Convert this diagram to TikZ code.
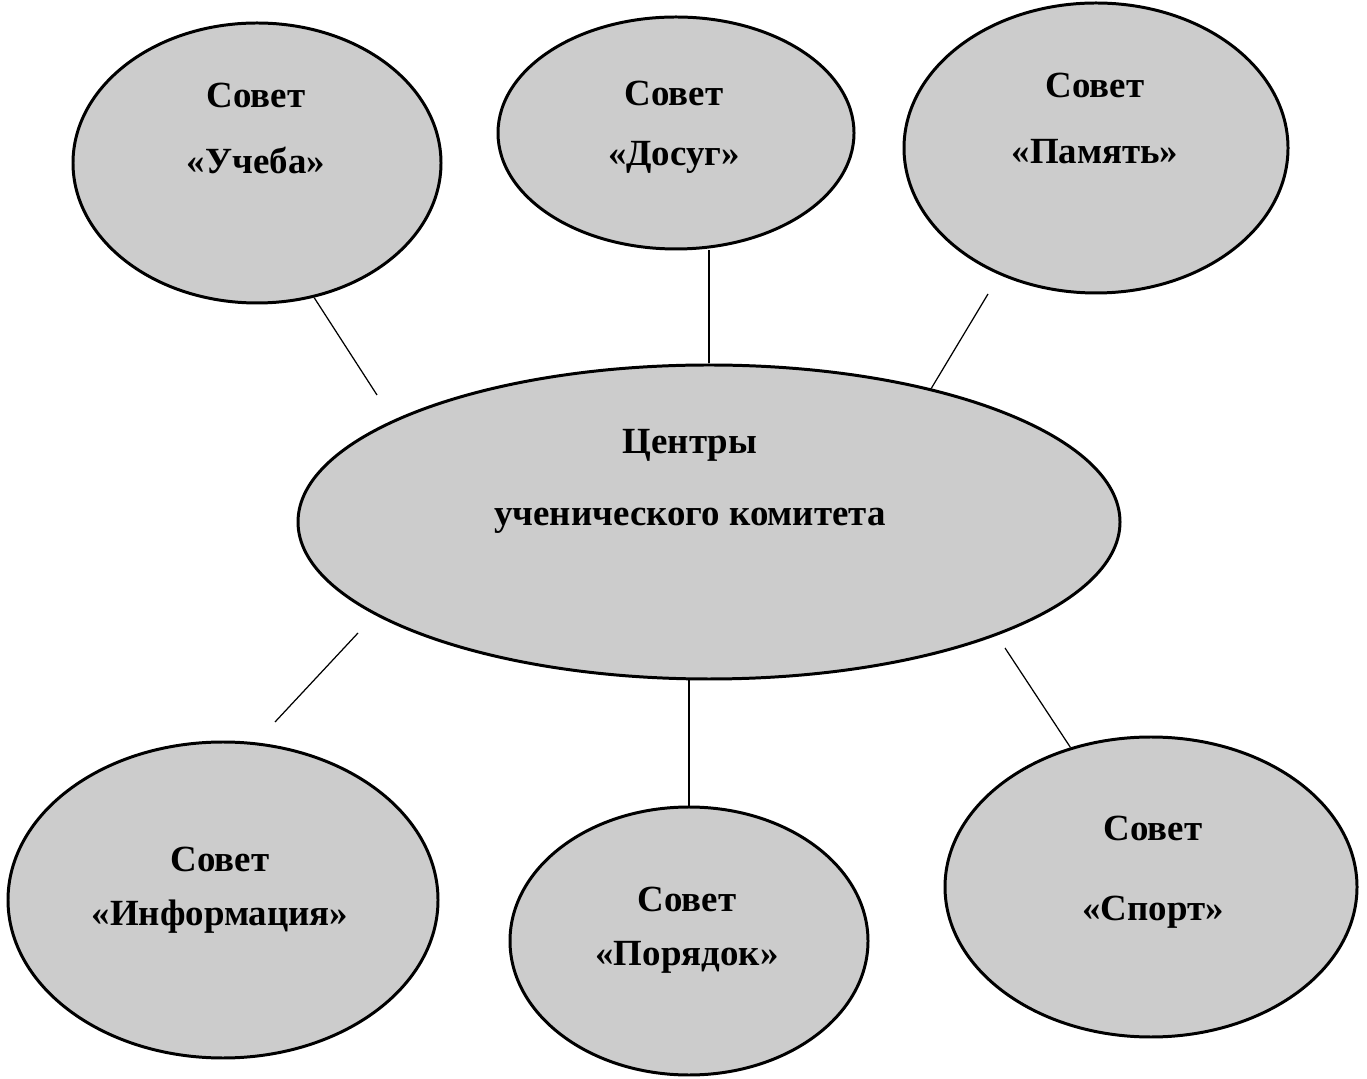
\documentclass[tikz,border=0pt]{standalone}
\usepackage{fontspec}
\setmainfont{Liberation Serif}
\usetikzlibrary{shapes.geometric}

\tikzset{
  council/.style={ellipse,draw,line width=1.7pt,fill=black!20,inner sep=0pt},
  caption/.style={align=center,font=\fontsize{21}{25}\selectfont\bfseries},
  link/.style={line width=0.7pt}
}

\begin{document}
\begin{tikzpicture}
  \useasboundingbox (0,0) rectangle (27.34,21.56);

  % councils
  \node[council,minimum width=7.36cm,minimum height=5.60cm] (ucheba) at (5.14,18.30) {};
  \node[council,minimum width=7.12cm,minimum height=4.64cm] (dosug) at (13.52,18.90) {};
  \node[council,minimum width=7.68cm,minimum height=5.80cm] (pamyat) at (21.92,18.60) {};
  \node[council,minimum width=16.44cm,minimum height=6.28cm] (centre) at (14.18,11.12) {};
  \node[council,minimum width=8.60cm,minimum height=6.32cm] (inform) at (4.46,3.56) {};
  \node[council,minimum width=7.16cm,minimum height=5.36cm] (poryadok) at (13.78,2.74) {};
  \node[council,minimum width=8.24cm,minimum height=6.00cm] (sport) at (23.02,3.82) {};

  % captions
  \node[caption] (ucheba text) at (5.12,18.99) {Совет\\[0.46cm]«Учеба»};
  \node[caption] (dosug text) at (13.48,19.02) {Совет\\[0.32cm]«Досуг»};
  \node[caption] (pamyat text) at (21.90,19.19) {Совет\\[0.46cm]«Память»};
  \node[caption] (centre text) at (13.80,11.94) {Центры\\[0.56cm]ученического комитета};
  \node[caption] (inform text) at (4.40,3.76) {Совет\\[0.20cm]«Информация»};
  \node[caption] (poryadok text) at (13.74,2.96) {Совет\\[0.20cm]«Порядок»};
  \node[caption] (sport text) at (23.06,4.12) {Совет\\[0.72cm]«Спорт»};

  % loose ends
  \coordinate (ucheba end) at (7.54,13.66);
  \coordinate (pamyat start) at (19.76,15.68);
  \coordinate (inform start) at (7.16,8.90);
  \coordinate (inform end) at (5.50,7.12);
  \coordinate (sport start) at (20.10,8.60);

  % connectors
  \draw[link] (ucheba.-67) -- (ucheba end);
  \draw[link] (centre.north) -- (centre.north |- dosug.south);
  \draw[link] (pamyat start) -- (centre.31);
  \draw[link] (inform start) -- (inform end);
  \draw[link] (poryadok.north) -- (poryadok.north |- centre.south);
  \draw[link] (sport start) -- (sport.120);
\end{tikzpicture}
\end{document}
